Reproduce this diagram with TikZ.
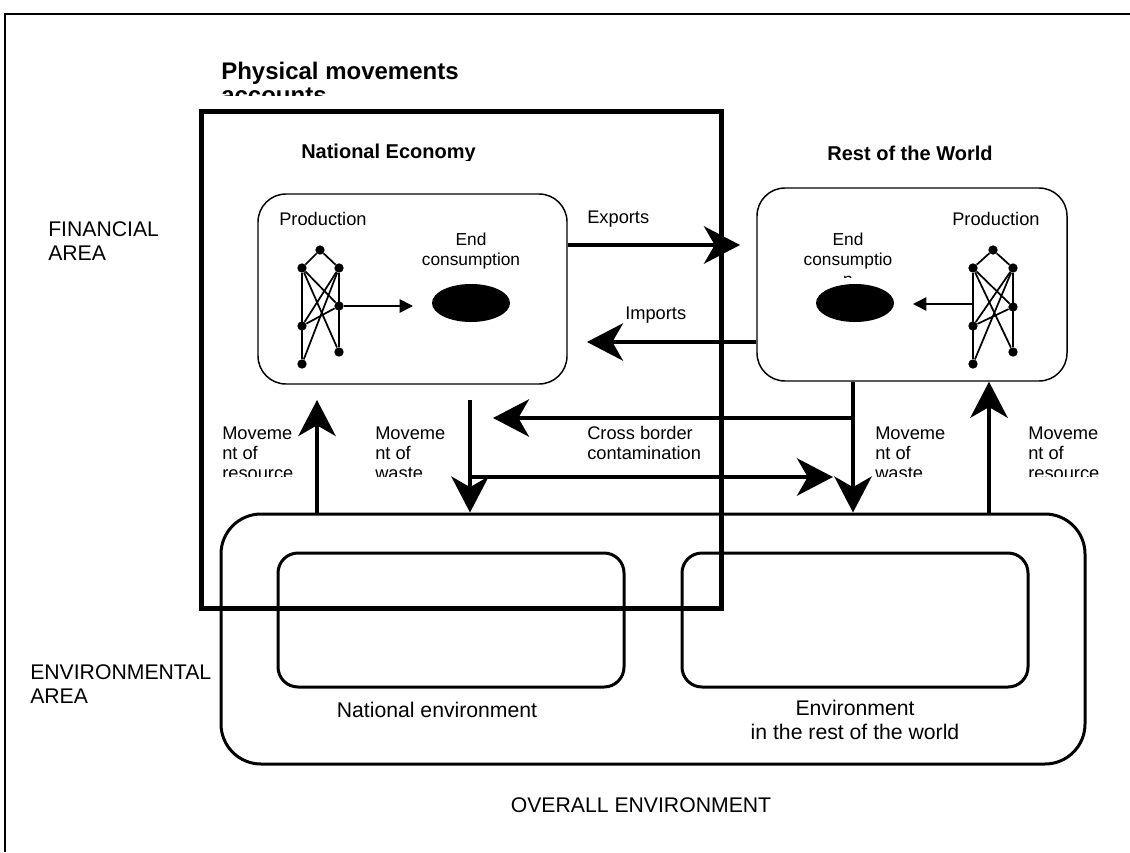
\documentclass[tikz,border=0pt]{standalone}
\usepackage{fontspec}
\setmainfont{Liberation Sans}
\usetikzlibrary{arrows.meta,fit,shapes.geometric}
\begin{document}
\begin{tikzpicture}[x=0.75pt,y=-0.75pt,
  lbl/.style={inner sep=0pt, font=\fontsize{13.7}{15}\selectfont, align=left},
  ecl/.style={inner sep=0pt, font=\fontsize{13}{15}\selectfont, align=center},
  bigt/.style={inner sep=0pt, font=\fontsize{15.9}{18}\selectfont, align=left},
  bigc/.style={inner sep=0pt, font=\fontsize{15.9}{18}\selectfont, align=center},
  hdr/.style={inner sep=0pt, font=\fontsize{15}{18}\selectfont\bfseries},
  ttl/.style={inner sep=0pt, font=\fontsize{18}{18}\selectfont\bfseries, align=left},
  finbox/.style={draw, line width=1.1pt, rounded corners=21pt, inner sep=0pt},
  envbox/.style={draw, line width=2.25pt, rounded corners=30pt, inner sep=0pt},
  envinner/.style={draw, line width=2.25pt, rounded corners=15pt, inner sep=0pt},
  ecobox/.style={draw, line width=3.75pt, inner sep=0pt},
  dot/.style={circle, fill, inner sep=0pt, minimum size=7pt},
  net/.style={line width=1.3pt},
  flow/.style={line width=3pt, -{Stealth[length=27pt,width=28pt,inset=8pt]}},
  smallarr/.style={line width=1.2pt, -{Triangle[length=10pt,width=10pt]}},
  ellip/.style={ellipse, fill, inner sep=0pt, minimum width=58.5pt, minimum height=28.5pt}
]
\useasboundingbox (0,0) rectangle (1130,852);
% outer frame
\draw[line width=1.5pt] (5,852) -- (5,14) -- (1130,14);

% boxes
\node[envbox, fit={(221,514) (1085,764)}] (env) {};
\node[envinner, fit={(278,553) (624,687)}] (natenv) {};
\node[envinner, fit={(682,553) (1028,687)}] (rowenv) {};
\node[ecobox, fit={(201,112) (721,608)}] (eco) {};
\node[finbox, fit={(258,194) (567,384)}] (lbox) {};
\node[finbox, fit={(757,188) (1067,381)}] (rbox) {};

% title
\begin{scope}
  \clip (0,0) rectangle (1130,96);
  \node[ttl, anchor=north west] (title) at (221,61.4) {Physical movements\\accounts};
\end{scope}
\begin{scope}
  \clip (0,0) rectangle (1130,161);
  \node[hdr, anchor=west] (natec) at (301,153) {National Economy};
\end{scope}
\node[hdr, anchor=center] (rotw) at (910,153) {Rest of the World};

% area labels
\node[bigt, anchor=north west] (fin) at (48,221.6) {FINANCIAL\\AREA};
\node[bigt, anchor=north west] (envar) at (30,664.4) {ENVIRONMENTAL\\AREA};
\node[bigc] (overall) at (641,805) {OVERALL ENVIRONMENT};
\node[bigc] (natlab) at (437,710) {National environment};
\node[bigc] (rowlab) at (855,720) {Environment\\in the rest of the world};

% inside left box
\node[lbl, anchor=west] (lprod) at (279,219) {Production};
\node[ecl, anchor=north] (lend) at (471,232.6) {End\\consumption};
\node[ellip] (lell) at (471,303) {};
% inside right box
\node[lbl, anchor=west] (rprod) at (952,219) {Production};
\begin{scope}
  \clip (757,188) rectangle (1067,277.5);
  \node[ecl, anchor=north] (rend) at (848,232.6) {End\\consumptio\\n};
\end{scope}
\node[ellip] (rell) at (855,303) {};

% left network
\node[dot] (a0) at (320,250) {};
\node[dot] (aLT) at (302,268) {};
\node[dot] (aRT) at (339,268) {};
\node[dot] (aRM) at (339,306) {};
\node[dot] (aLM) at (302,326) {};
\node[dot] (aRB) at (339,352) {};
\node[dot] (aLB) at (302,364) {};
\draw[net] (aLT) -- (a0) -- (aRT);
\draw[net] (aLT) -- (aLB);
\draw[net] (aRT) -- (aRB);
\draw[net] (aLT) -- (aRM);
\draw[net] (aLT) -- (aRB);
\draw[net] (aRT) -- (aLM);
\draw[net] (aRT) -- (aLB);
\draw[net] (aLM) -- (aRM);
\coordinate (ltip) at (413,306);
\draw[smallarr] (aRM) -- (ltip);

% right network
\node[dot] (b0) at (993,250) {};
\node[dot] (bLT) at (973,268) {};
\node[dot] (bRT) at (1013,268) {};
\node[dot] (bRM) at (1013,307) {};
\node[dot] (bLM) at (973,326) {};
\node[dot] (bRB) at (1013,352) {};
\node[dot] (bLB) at (973,364) {};
\draw[net] (bLT) -- (b0) -- (bRT);
\draw[net] (bLT) -- (bLB);
\draw[net] (bRT) -- (bRB);
\draw[net] (bLT) -- (bRM);
\draw[net] (bLT) -- (bRB);
\draw[net] (bRT) -- (bLM);
\draw[net] (bRT) -- (bLB);
\draw[net] (bLM) -- (bRM);
\coordinate (rsrc) at (972,304);
\coordinate (rtip) at (913,304);
\draw[smallarr] (rsrc) -- (rtip);

% exports / imports
\coordinate (exptip) at (740,245);
\draw[flow] (lbox.east |- exptip) -- (exptip);
\node[lbl, anchor=west] (exp) at (587,219) {Exports};
\coordinate (imptip) at (587,342);
\draw[flow] (rbox.west |- imptip) -- (imptip);
\node[lbl, anchor=west] (imp) at (625,315) {Imports};

% vertical flows
\coordinate (lrestip) at (317,400);
\draw[flow] (lrestip |- env.north) -- (lrestip);
\coordinate (rresx) at (989,0);
\draw[flow] (rresx |- env.north) -- (rresx |- rbox.south);
\coordinate (lwsrc) at (470,400);
\draw[flow] (lwsrc) -- (lwsrc |- env.north);
\coordinate (rwx) at (853,0);
\draw[flow] (rwx |- rbox.south) -- (rwx |- env.north);

% cross border
\coordinate (cbtop) at (853,418);
\coordinate (cbtoptip) at (493,418);
\draw[flow] (cbtop) -- (cbtoptip);
\coordinate (cbbot) at (470,477);
\coordinate (cbbottip) at (833,477);
\draw[flow] (cbbot) -- (cbbottip);
\node[lbl, anchor=north west] (cb) at (587,426.4) {Cross border\\contamination};

% movement labels (clipped)
\begin{scope}
  \clip (0,380) rectangle (1130,476);
  \node[lbl, anchor=north west] (m1) at (222,426.4) {Moveme\\nt of\\resource};
  \node[lbl, anchor=north west] (m2) at (375,426.4) {Moveme\\nt of\\waste};
  \node[lbl, anchor=north west] (m3) at (875,426.4) {Moveme\\nt of\\waste};
  \node[lbl, anchor=north west] (m4) at (1028,426.4) {Moveme\\nt of\\resource};
\end{scope}
\end{tikzpicture}
\end{document}
